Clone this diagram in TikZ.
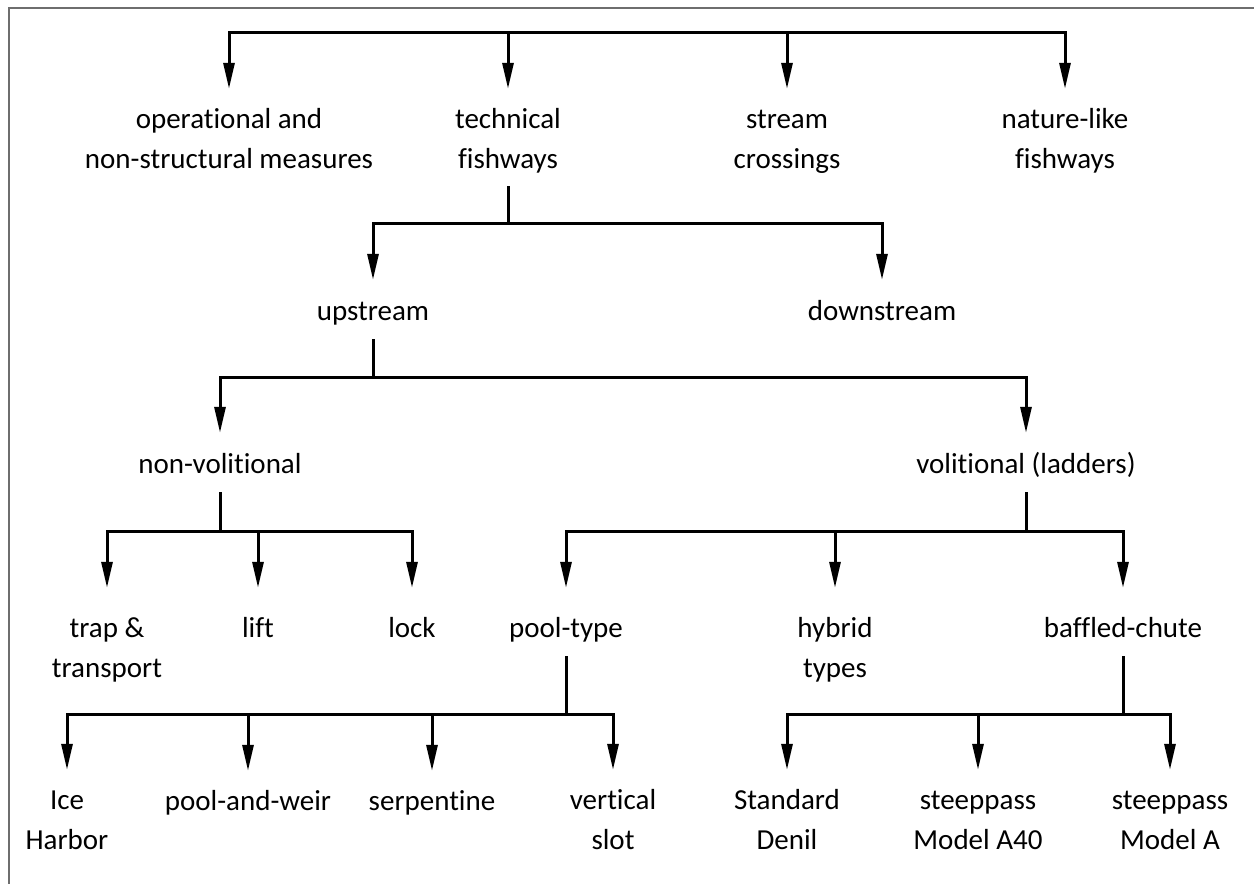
\documentclass[tikz,border=0pt]{standalone}
\usepackage{fontspec}
\setmainfont{Carlito}[Ligatures=NoCommon]
\usetikzlibrary{arrows.meta}
\definecolor{frameclr}{RGB}{110,110,110}
\begin{document}
\begin{tikzpicture}[x=1pt,y=-1pt,
  lbl/.style={font=\fontsize{29}{40}\selectfont, align=center, inner sep=0pt, anchor=base, text height=39pt},
  rowb/.style={text height=40pt},
  rowd/.style={text height=49pt},
  two/.style={text height=79pt},
  twod/.style={text height=89pt},
  ln/.style={line width=3pt, line cap=rect},
  arr/.style={line width=3pt, -{Triangle[length=26pt,width=11pt]}},
  frameline/.style={draw=frameclr, line width=2pt}]
\useasboundingbox (0,0) rectangle (1254,884);
\draw[frameline] (1256,8) -- (9,8) -- (9,886);
% bar levels
\coordinate (b1) at (0,32);
\coordinate (b2) at (0,223);
\coordinate (b3) at (0,377);
\coordinate (b4) at (0,531);
\coordinate (b5) at (0,714);
% level 1 (two-line nodes placed at the baseline of their last line)
\node[lbl,two] (op) at (229,168) {operational and\\non-structural measures};
\node[lbl,two] (tech) at (508,168) {technical\\fishways};
\node[lbl,two] (stream) at (787,168) {stream\\crossings};
\node[lbl,two] (nature) at (1065,168) {nature-like\\fishways};
% level 2
\node[lbl,rowb] (up) at (373,320) {upstream};
\node[lbl,rowb] (down) at (882,320) {downstream};
% level 3
\node[lbl,rowb] (nonvol) at (220,473) {non-volitional};
\node[lbl,rowb] (vol) at (1026,473) {volitional (ladders)};
% level 4
\node[lbl,twod] (trap) at (107,677) {trap \&\\transport};
\node[lbl,rowd] (lift) at (258,637) {lift};
\node[lbl,rowd] (lock) at (412,637) {lock};
\node[lbl,rowd] (pool) at (566,637) {pool-type};
\node[lbl,twod] (hybrid) at (835,677) {hybrid\\types};
\node[lbl,rowd] (baffled) at (1123,637) {baffled-chute};
% level 5
\node[lbl,two] (ice) at (67,849) {Ice\\Harbor};
\node[lbl] (weir) at (248,810) {pool-and-weir};
\node[lbl] (serp) at (432,810) {serpentine};
\node[lbl,two] (vslot) at (613,849) {vertical\\slot};
\node[lbl,two] (denil) at (787,849) {Standard\\Denil};
\node[lbl,two] (a40) at (978,849) {steeppass\\Model A40};
\node[lbl,two] (modela) at (1170,849) {steeppass\\Model A};
% connectors level 1
\draw[ln] (b1 -| op) -- (b1 -| nature);
\foreach \n in {op,tech,stream,nature} \draw[arr] (b1 -| \n) -- (\n.north);
% technical fishways
\draw[ln] ([yshift=-19pt]tech.base) -- (b2 -| tech);
\draw[ln] (b2 -| up) -- (b2 -| down);
\foreach \n in {up,down} \draw[arr] (b2 -| \n) -- (\n.north);
% upstream
\draw[ln] ([yshift=-20pt]up.base) -- (b3 -| up);
\draw[ln] (b3 -| nonvol) -- (b3 -| vol);
\foreach \n in {nonvol,vol} \draw[arr] (b3 -| \n) -- (\n.north);
% non-volitional
\draw[ln] ([yshift=-20pt]nonvol.base) -- (b4 -| nonvol);
\draw[ln] (b4 -| trap) -- (b4 -| lock);
\foreach \n in {trap,lift,lock} \draw[arr] (b4 -| \n) -- (\n.north);
% volitional
\draw[ln] ([yshift=-20pt]vol.base) -- (b4 -| vol);
\draw[ln] (b4 -| pool) -- (b4 -| baffled);
\foreach \n in {pool,hybrid,baffled} \draw[arr] (b4 -| \n) -- (\n.north);
% pool-type
\draw[ln] ([yshift=-20pt]pool.base) -- (b5 -| pool);
\draw[ln] (b5 -| ice) -- (b5 -| vslot);
\foreach \n in {ice,weir,serp,vslot} \draw[arr] (b5 -| \n) -- (\n.north);
% baffled-chute
\draw[ln] ([yshift=-20pt]baffled.base) -- (b5 -| baffled);
\draw[ln] (b5 -| denil) -- (b5 -| modela);
\foreach \n in {denil,a40,modela} \draw[arr] (b5 -| \n) -- (\n.north);
\end{tikzpicture}
\end{document}
